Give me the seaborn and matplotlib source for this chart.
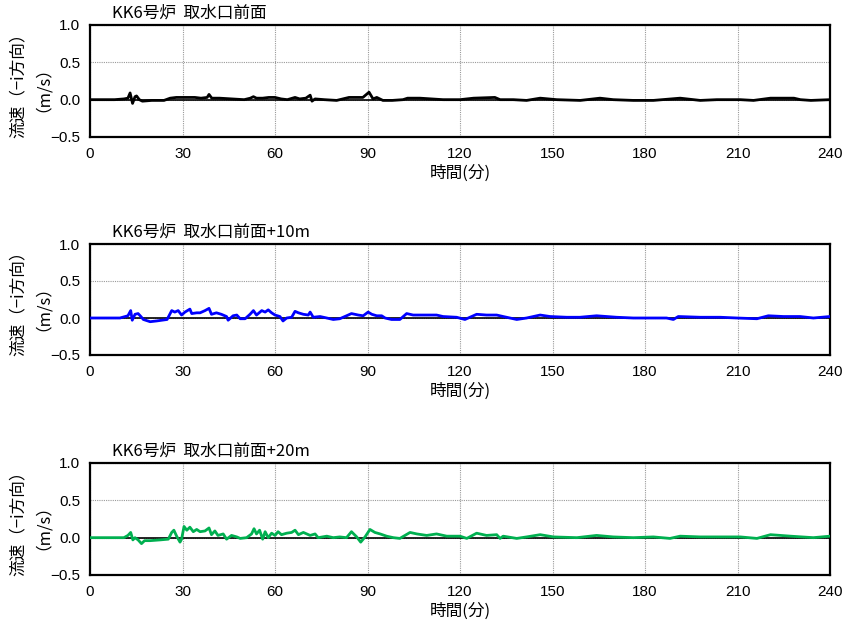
import numpy as np
import pandas as pd
import matplotlib
matplotlib.use("Agg")
import matplotlib.pyplot as plt
import seaborn as sns
from matplotlib.ticker import FuncFormatter, FixedLocator

# ---------------- data ----------------
titles = ["KK6号炉  取水口前面", "KK6号炉  取水口前面+10m", "KK6号炉  取水口前面+20m"]
x_ticks = [0, 30, 60, 90, 120, 150, 180, 210, 240]
y_ticks = [-0.5, 0.0, 0.5, 1.0]

t_black = [0, 8, 11, 12.3, 13.0, 13.8, 14.6, 15.1, 16.0, 17.0, 20, 24, 26, 28, 31, 34, 36,
           38.0, 38.6, 39.5, 42, 46, 50, 52, 53, 54, 56, 58, 60, 62, 64, 66.5, 68, 70, 71.4,
           72, 73, 76, 80, 84, 86, 88.5, 90.5, 91.8, 93, 95, 98, 101.5, 103, 107, 114.5, 120,
           124.4, 131.3, 133, 137.3, 141.6, 146, 151.4, 159, 165.4, 169.7, 176.2, 182.7,
           191.4, 197.9, 203.3, 210.9, 215.2, 220.7, 228.3, 230.4, 233.8, 240]
v_black = [0, 0, 0.01, 0.02, 0.09, -0.05, 0.04, 0.05, 0.0, -0.02, -0.01, -0.01, 0.02, 0.03,
           0.03, 0.03, 0.02, 0.03, 0.07, 0.02, 0.02, 0.01, 0.0, 0.02, 0.04, 0.02, 0.02, 0.03,
           0.03, 0.01, 0.0, 0.03, 0.01, 0.02, 0.06, -0.02, 0.01, 0.0, -0.01, 0.03, 0.03, 0.03,
           0.1, 0.01, 0.03, -0.01, -0.01, 0.0, 0.02, 0.02, 0.0, 0.0, 0.02, 0.03, 0.0, 0.0,
           -0.01, 0.02, 0.0, -0.01, 0.02, 0.0, -0.01, -0.01, 0.02, -0.01, 0.0, 0.0, -0.01,
           0.02, 0.02, 0.0, -0.01, 0.0]

t_blue = [0, 9.7, 12.3, 13.2, 13.7, 14.6, 15.6, 16.5, 17.3, 19.5, 21.6, 25, 26.5, 27.5, 28.6,
          29.7, 30.8, 32.4, 33, 34.6, 35.7, 37.3, 38.6, 39.4, 41, 42.6, 44.3, 44.8, 46.4, 47.6,
          48.7, 50.3, 51.9, 53, 54, 55.7, 56.8, 57.8, 58.9, 60, 61.6, 62.6, 63.8, 65.4, 66.5,
          67.6, 69.2, 70.8, 71.4, 72.4, 74.6, 76.8, 78.9, 81, 83.2, 84.8, 87, 88.6, 90.2, 91.4,
          93, 94.6, 95.7, 97.8, 100.5, 102.7, 104.8, 109.2, 112.4, 114.5, 118.9, 121.6, 125.4,
          128.6, 131.9, 134, 138.4, 141.6, 146, 149.2, 154.6, 158.9, 164.3, 170.8, 176.2,
          180.6, 187, 189.2, 190.8, 197.9, 204.4, 209.8, 216.3, 220, 224.9, 230.3, 234.6, 240]
v_blue = [0, 0, 0.03, 0.1, -0.03, 0.05, 0.06, 0.02, -0.02, -0.05, -0.04, -0.02, 0.1, 0.08,
          0.1, 0.04, 0.08, 0.12, 0.06, 0.07, 0.07, 0.1, 0.13, 0.05, 0.07, 0.05, 0.02, -0.03,
          0.03, 0.04, -0.01, -0.01, 0.05, 0.1, 0.04, 0.1, 0.08, 0.11, 0.07, 0.04, 0.02, -0.04,
          0.0, 0.01, 0.09, 0.07, 0.05, 0.04, 0.08, 0.01, 0.02, 0.0, -0.02, -0.01, 0.03, 0.06,
          0.04, 0.03, 0.08, 0.05, 0.03, 0.03, 0.0, -0.02, -0.02, 0.06, 0.04, 0.04, 0.04, 0.02,
          0.01, -0.02, 0.05, 0.04, 0.04, 0.02, -0.02, 0.0, 0.04, 0.02, 0.01, 0.01, 0.03, 0.01,
          0.0, 0.0, 0.0, -0.02, 0.02, 0.01, 0.01, 0.0, -0.01, 0.03, 0.02, 0.02, 0.0, 0.02]

t_green = [0, 11, 12.3, 13.2, 13.9, 14.6, 15.6, 16.7, 17.7, 19.5, 22.7, 25.4, 26.5, 27.2, 28.1,
           29.2, 29.7, 30.5, 31.4, 32.4, 33.5, 34.6, 35.7, 37.3, 38.6, 39.4, 40.5, 41.5, 43.2,
           44.3, 45.9, 47.6, 48.7, 50.8, 52.4, 53.2, 54, 55, 56, 56.8, 57.8, 58.9, 60, 61,
           62.1, 63.8, 65.4, 66.5, 67.6, 69.2, 71.4, 73, 74, 76.8, 78.9, 81, 83.2, 84.8, 86.5,
           87.8, 89.2, 90.8, 92.4, 94.1, 96.2, 98.4, 100.5, 103.8, 106, 109.2, 112.4, 115.7,
           120, 122.2, 125.4, 128.6, 131.9, 133, 134, 138.4, 141.6, 146, 150.3, 157.9, 164.3,
           169.7, 176.2, 182.7, 188.1, 191.4, 197.9, 204.4, 210.9, 216.3, 220.7, 227.2, 234.6,
           240]
v_green = [0, 0, 0.03, 0.07, -0.03, 0.0, -0.03, -0.08, -0.04, -0.04, -0.03, -0.02, 0.07, 0.1,
           0.02, -0.06, -0.02, 0.15, 0.1, 0.14, 0.08, 0.11, 0.08, 0.09, 0.13, 0.04, 0.09, 0.03,
           0.05, -0.02, 0.03, 0.01, -0.01, 0.0, 0.05, 0.12, 0.05, 0.1, -0.02, 0.08, 0.0, 0.06,
           0.03, 0.08, 0.04, 0.06, 0.07, 0.1, 0.04, 0.07, 0.03, 0.05, 0.0, 0.02, 0.0, 0.01, 0.0,
           0.08, 0.01, -0.06, 0.01, 0.11, 0.07, 0.05, 0.02, 0.0, -0.01, 0.07, 0.05, 0.03, 0.05,
           0.02, 0.02, -0.01, 0.06, 0.03, 0.04, -0.01, 0.02, -0.01, 0.01, 0.04, 0.01, 0.0,
           0.03, 0.01, 0.0, 0.01, -0.01, 0.02, 0.01, 0.01, 0.01, -0.01, 0.04, 0.02, 0.0, 0.02]

series = [(t_black, v_black, "#000000"), (t_blue, v_blue, "#0000ff"), (t_green, v_green, "#00b050")]

# ---------------- style ----------------
sns.set_style("white")
plt.rcParams["font.family"] = ["Liberation Sans", "Noto Sans CJK JP", "DejaVu Sans"]
plt.rcParams["axes.unicode_minus"] = True
plt.rcParams["text.color"] = "black"
plt.rcParams["axes.labelcolor"] = "black"
plt.rcParams["xtick.color"] = "black"
plt.rcParams["ytick.color"] = "black"

fig = plt.figure(figsize=(8.44, 6.26), dpi=100)
W, H = 844, 626
panels = [(25, 137), (244, 355), (463, 575)]
cjk = ["Noto Sans CJK JP", "DejaVu Sans"]

def yfmt(v, pos):
    s = f"{abs(v):.1f}"
    return ("\u2212" + s) if v < 0 else s

for (top, bot), title, (tt, vv, col) in zip(panels, titles, series):
    ax = fig.add_axes([90 / W, 1 - bot / H, 740 / W, (bot - top) / H])
    ax.set_xlim(0, 240)
    ax.set_ylim(-0.5, 1.0)
    ax.xaxis.set_major_locator(FixedLocator(x_ticks))
    ax.yaxis.set_major_locator(FixedLocator(y_ticks))
    ax.yaxis.set_major_formatter(FuncFormatter(yfmt))
    ax.grid(True, color="#9a9a9a", linestyle=(0, (1, 1)), linewidth=0.8)
    ax.axhline(0, color="black", linewidth=1.2, zorder=2)
    df = pd.DataFrame({"t": tt, "v": vv})
    sns.lineplot(data=df, x="t", y="v", ax=ax, color=col, linewidth=2.0, zorder=3)
    for s in ax.spines.values():
        s.set_visible(True)
        s.set_color("black")
        s.set_linewidth(1.6)
    ax.tick_params(length=0, pad=7, labelsize=11, colors="black")
    ax.set_xlabel("時間(分)", fontsize=12, family=cjk, labelpad=3, color="black")
    ax.set_ylabel("流速（−i方向）\n（m/s）", fontsize=12, family=cjk,
                  labelpad=5, linespacing=1.0, color="black")
    ax.text(22 / 740, 1.0 + 3 / (bot - top), title, transform=ax.transAxes, ha="left",
            va="bottom", fontsize=12, family=cjk, color="black")

fig.savefig("out.png", dpi=100)
